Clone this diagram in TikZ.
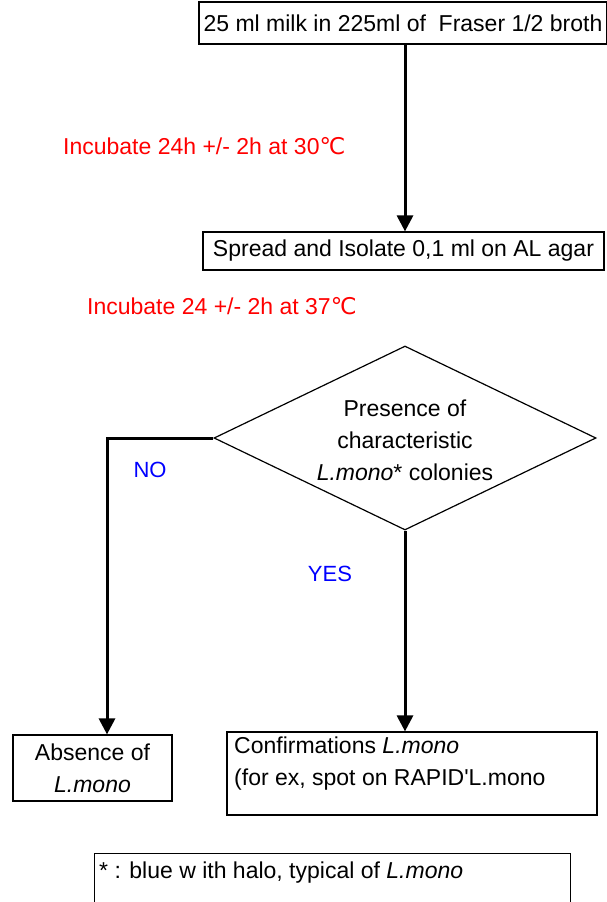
\documentclass[tikz,border=0pt]{standalone}
\usepackage{fontspec}
\setmainfont{Liberation Sans}
\newfontfamily\degfont{DejaVu Sans}
\usetikzlibrary{shapes.geometric,arrows.meta}
\newcommand{\lmono}{\textit{L.mono}}
\newcommand{\degC}{{\degfont ℃}}

\begin{document}
\begin{tikzpicture}[x=1pt,y=-1pt,font=\fontsize{23}{32}\selectfont,
  stage/.style={shape=rectangle,draw=black,line width=1.2pt,inner sep=0pt},
  decision/.style={shape=diamond,draw=black,line width=1.2pt,inner sep=0pt,minimum width=382pt,minimum height=184pt},
  flow/.style={line width=3pt,-{Triangle[width=16pt,length=16pt]}},
  incub/.style={text=red,anchor=west,inner sep=0pt},
  answer/.style={text=blue,inner sep=0pt,font=\fontsize{22}{26}\selectfont}]
\useasboundingbox (0,0) rectangle (606,902);

\node[stage,minimum width=408pt,minimum height=42pt] (milk) at (403,23) {25 ml milk in 225ml of\ \ Fraser 1/2 broth};
\node[stage,minimum width=401pt,minimum height=38pt] (spread) at (403.5,251) {Spread and Isolate 0,1 ml on AL agar};

\node[incub] (inc1) at (63,146) {Incubate 24h +/- 2h at 30\degC};
\node[incub] (inc2) at (87,306) {Incubate 24 +/- 2h at 37\degC};

\node[decision] (test) at (405,438) {};
\node[align=center,inner sep=0pt] (testtxt) at (405,440) {Presence of\\characteristic\\\lmono* colonies};

\node[stage,minimum width=159pt,minimum height=66pt,align=center] (absence) at (92.5,768) {Absence of\\\lmono};
\node[stage,minimum width=370pt,minimum height=83pt] (conf) at (412,773.5) {};
\node[align=left,anchor=north west,inner sep=0pt] (conftxt) at (234,737) {Confirmations \lmono\\(for ex, spot on RAPID\textquotesingle L.mono};

\node[stage,minimum width=476pt,minimum height=55pt,anchor=north west] (note) at (94,853) {};
\node[anchor=west,inner sep=0pt] (notetxt) at (99,873) {* : blue w ith halo, typical of\ \lmono};

% arrows
\coordinate (nobend) at (107,438);
\draw[flow] (milk.south -| test.north) -- (spread.north -| test.north);
\draw[flow] (test.west) -- (nobend) -- (nobend |- absence.north);
\draw[flow] (test.south) -- (test.south |- conf.north);

\node[answer] (no) at (150,470) {NO};
\node[answer] (yes) at (330,574) {YES};
\end{tikzpicture}
\end{document}
